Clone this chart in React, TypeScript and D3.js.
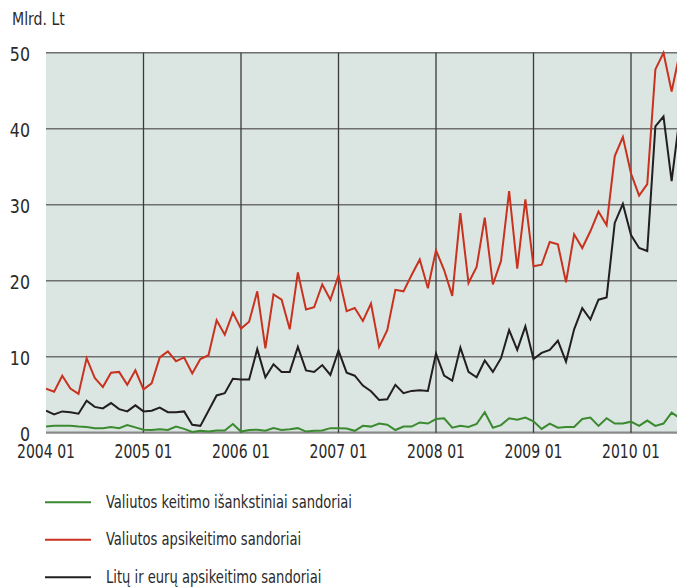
import React from "react";
import * as d3 from "d3";

const yTicks = [0, 10, 20, 30, 40, 50];
const yearLabels = ["2004 01", "2005 01", "2006 01", "2007 01", "2008 01", "2009 01", "2010 01"];
const unitLabel = "Mlrd. Lt";

const seriesNames = [
  "Valiutos keitimo išankstiniai sandoriai",
  "Valiutos apsikeitimo sandoriai",
  "Litų ir eurų apsikeitimo sandoriai",
];

// monthly values from 2004-01
const forwards = [
  0.8, 0.9, 0.9, 0.9, 0.8, 0.75, 0.6, 0.6, 0.75, 0.6, 1.0, 0.7,
  0.4, 0.35, 0.45, 0.35, 0.8, 0.5, 0.1, 0.25, 0.15, 0.3, 0.3, 1.15,
  0.15, 0.35, 0.4, 0.25, 0.6, 0.35, 0.45, 0.6, 0.15, 0.25, 0.3, 0.6,
  0.6, 0.55, 0.25, 0.9, 0.8, 1.2, 1.05, 0.35, 0.8, 0.8, 1.35, 1.2,
  1.8, 1.9, 0.65, 0.9, 0.75, 1.15, 2.7, 0.65, 1.0, 1.9, 1.7, 2.0,
  1.5, 0.5, 1.2, 0.65, 0.75, 0.75, 1.8, 2.0, 0.9, 1.9, 1.2, 1.2,
  1.45, 0.9, 1.6, 0.9, 1.2, 2.65, 1.9,
];
const swaps = [
  5.8, 5.4, 7.5, 5.8, 5.1, 9.8, 7.2, 6.0, 7.9, 8.0, 6.3, 8.2,
  5.7, 6.5, 9.9, 10.7, 9.4, 9.9, 7.8, 9.7, 10.2, 14.8, 12.9, 15.8,
  13.7, 14.6, 18.6, 11.1, 18.2, 17.5, 13.6, 21.1, 16.2, 16.5, 19.5, 17.5,
  20.7, 16.0, 16.4, 14.7, 17.0, 11.3, 13.5, 18.8, 18.6, 20.75, 22.8, 19.0,
  24.0, 21.4, 18.0, 28.9, 19.7, 21.8, 28.3, 19.5, 22.6, 31.8, 21.6, 30.7,
  21.9, 22.1, 25.1, 24.8, 19.8, 26.1, 24.3, 26.5, 29.1, 27.3, 36.4, 38.9,
  34.1, 31.2, 32.7, 47.8, 50.0, 44.9, 50.0,
];
const litEurSwaps = [
  2.9, 2.4, 2.8, 2.7, 2.5, 4.2, 3.4, 3.2, 3.9, 3.1, 2.8, 3.6,
  2.8, 2.9, 3.3, 2.7, 2.7, 2.8, 1.05, 0.9, 2.9, 4.9, 5.2, 7.1,
  7.0, 7.0, 11.0, 7.3, 9.0, 8.0, 8.0, 11.3, 8.2, 8.0, 8.9, 7.6,
  10.8, 7.9, 7.5, 6.2, 5.45, 4.3, 4.4, 6.3, 5.2, 5.5, 5.6, 5.5,
  10.4, 7.5, 6.85, 11.2, 8.0, 7.3, 9.5, 8.0, 9.8, 13.5, 10.9, 14.0,
  9.7, 10.5, 10.9, 12.1, 9.35, 13.6, 16.4, 14.9, 17.5, 17.8, 27.6, 30.1,
  26.0, 24.3, 23.9, 40.3, 41.6, 33.1, 41.7,
];

const colors = ["#3b8a2f", "#c8321f", "#231f20"];

function CText(props: {
  x: number;
  y: number;
  sx: number;
  size: number;
  anchor?: "start" | "middle" | "end";
  children: React.ReactNode;
}) {
  return (
    <text
      transform={`translate(${props.x},${props.y}) scale(${props.sx},1)`}
      textAnchor={props.anchor || "start"}
      fontSize={props.size}
      fill="#2a2a2a"
    >
      {props.children}
    </text>
  );
}

export default function App() {
  const W = 677, H = 587;
  const left = 46, right = 677, top = 52.7, bottom = 432.7;
  const x = d3.scaleLinear().domain([0, 72]).range([left, 631]);
  const y = d3.scaleLinear().domain([0, 50]).range([bottom, top]);
  const line = d3
    .line<number>()
    .x((_, i) => x(i))
    .y((d) => y(d));
  const font = "'DejaVu Sans Condensed', 'Liberation Sans Narrow', sans-serif";
  const series = [forwards, swaps, litEurSwaps];

  return (
    <svg
      width={W}
      height={H}
      style={{ position: "absolute", left: 0, top: 0, background: "#fff" }}
      fontFamily={font}
    >
      <defs>
        <clipPath id="plotclip">
          <rect x={left} y={0} width={right - left} height={bottom + 2} />
        </clipPath>
      </defs>
      <rect x={left} y={top} width={right - left} height={bottom - top} fill="#dbe6e3" />
      {yTicks.map((t) => (
        <g key={t}>
          <line x1={left} x2={right} y1={y(t)} y2={y(t)} stroke={t === 0 ? "#8a8a8a" : "#6f6f6f"} strokeWidth={t === 0 ? 2.2 : 1.6} />
          <CText x={30} y={y(t) + 8} sx={0.88} size={20} anchor="end">
            {t}
          </CText>
        </g>
      ))}
      {yearLabels.map((lab, k) => (
        <g key={lab}>
          {k > 0 && (
            <line x1={x(k * 12)} x2={x(k * 12)} y1={top} y2={bottom} stroke="#3a3a3a" strokeWidth={1.3} />
          )}
          <CText x={x(k * 12)} y={458} sx={0.82} size={19} anchor="middle">
            {lab}
          </CText>
        </g>
      ))}
      <CText x={12} y={25} sx={0.87} size={18}>
        {unitLabel}
      </CText>
      <g clipPath="url(#plotclip)">
        {series.map((s, i) => (
          <path key={i} d={line(s) || ""} fill="none" stroke={colors[i]} strokeWidth={2} strokeLinejoin="miter" />
        ))}
      </g>
      {seriesNames.map((n, i) => (
        <g key={n} transform={`translate(0, ${502.3 + i * 37.5})`}>
          <line x1={45} x2={91} y1={0} y2={0} stroke={colors[i]} strokeWidth={2} />
          <CText x={106} y={5.5} sx={0.81} size={18}>
            {n}
          </CText>
        </g>
      ))}
    </svg>
  );
}
